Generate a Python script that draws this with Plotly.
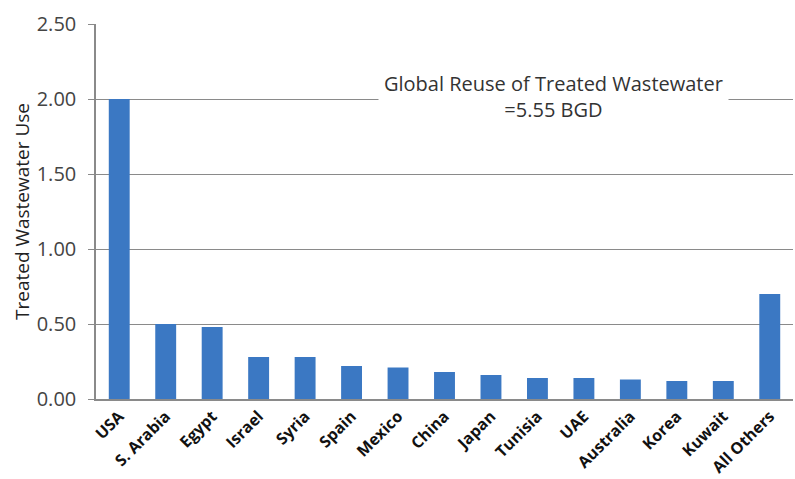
import plotly.graph_objects as go

countries = ["USA", "S. Arabia", "Egypt", "Israel", "Syria", "Spain", "Mexico", "China",
             "Japan", "Tunisia", "UAE", "Australia", "Korea", "Kuwait", "All Others"]
values = [2.00, 0.50, 0.48, 0.28, 0.28, 0.22, 0.21, 0.18, 0.16, 0.14, 0.14, 0.13, 0.12, 0.12, 0.70]
y_ticks = [0, 0.5, 1.0, 1.5, 2.0, 2.5]
y_tick_labels = ["0.00", "0.50", "1.00", "1.50", "2.00", "2.50"]

fig = go.Figure()
fig.add_trace(go.Bar(x=countries, y=values, marker=dict(color="#3B78C3", line=dict(width=0))))

fig.add_annotation(
    x=0.657, xref="paper", y=2.02, yref="y",
    text="Global Reuse of Treated Wastewater<br>=5.55 BGD",
    showarrow=False, bgcolor="white", borderpad=5,
    font=dict(family="Open Sans", size=20, color="#333333"),
    align="center",
)

fig.update_layout(
    width=795, height=479,
    margin=dict(l=96, r=2, t=24, b=80, autoexpand=False),
    paper_bgcolor="white", plot_bgcolor="white",
    bargap=0.55, showlegend=False,
    font=dict(family="Open Sans", color="#333333"),
    xaxis=dict(
        tickangle=-45, showline=True, linecolor="#8a8a8a", linewidth=1.5,
        ticks="", showgrid=False, automargin=False,
        tickfont=dict(family="Open Sans", size=16, color="#111111", weight="bold"),
        range=[-0.5, 14.5],
    ),
    yaxis=dict(
        range=[0, 2.5], tickvals=y_ticks, ticktext=y_tick_labels,
        showline=True, linecolor="#8a8a8a", linewidth=1.5,
        ticks="outside", ticklen=6, tickcolor="#8a8a8a",
        ticklabelstandoff=8, automargin=False,
        showgrid=True, gridcolor="#8a8a8a", gridwidth=1.2, zeroline=False,
        tickfont=dict(family="Open Sans", size=20, color="#444444"),
        title=dict(text="Treated Wastewater Use", standoff=2,
                   font=dict(family="Open Sans", size=19, color="#222222")),
    ),
)

fig.write_html("out.html")
